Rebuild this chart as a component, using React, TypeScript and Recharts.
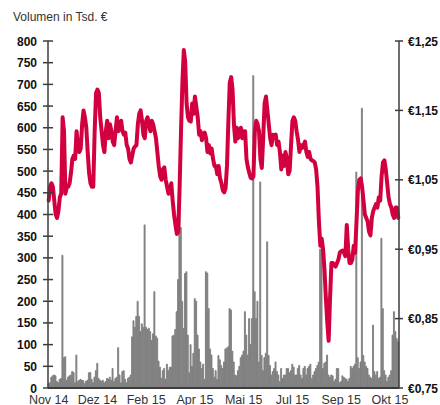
import { ComposedChart, Bar, Line, XAxis, YAxis } from "recharts";

const xLabels = ["Nov 14", "Dez 14", "Feb 15", "Apr 15", "Mai 15", "Jul 15", "Sep 15", "Okt 15"];
const labelEvery = 35;

const volumeTicks = [0, 50, 100, 150, 200, 250, 300, 350, 400, 450, 500, 550, 600, 650, 700, 750, 800];
const priceTicks = [0.75, 0.85, 0.95, 1.05, 1.15, 1.25];

// daily volume, thousand EUR
const volume = [
  10, 12, 25, 28, 30, 28, 15, 12, 20, 22,
  306, 70, 72, 18, 25, 28, 30, 38, 36, 12,
  76, 15, 18, 20, 18, 17, 10, 16, 18, 35,
  36, 20, 12, 25, 40, 57, 22, 18, 15, 18,
  12, 15, 22, 20, 25, 18, 45, 15, 22, 25,
  93, 30, 12, 38, 40, 20, 12, 22, 25, 30,
  118, 155, 140, 165, 200, 165, 130, 148, 140, 376,
  140, 135, 138, 130, 110, 125, 222, 120, 115, 62,
  48, 22, 40, 45, 20, 55, 40, 48, 48, 120,
  122, 135, 176, 250, 420, 370, 200, 137, 264, 268,
  122,
  35, 100, 50, 80, 206, 200, 122, 90, 60, 45,
  55, 20, 268, 265, 183, 90, 76, 45, 25, 40,
  20, 75, 65, 52, 45, 60, 90, 92, 95, 183,
  180, 85, 60, 30, 28, 40, 50, 70, 76, 85,
  176, 122, 76, 160, 100, 160, 720, 222, 160, 200,
  60, 475, 75, 40, 70, 80, 337, 75, 52, 30,
  38, 45, 60, 38, 30, 15, 45, 22, 30, 30,
  45, 45, 35, 40, 55, 48, 30, 30, 45, 52,
  30, 22, 45, 50, 30, 45, 50, 55, 22, 30,
  38, 45, 52, 60, 320, 322, 45, 57, 60, 76,
  30, 25, 30, 28, 15, 20, 45, 45, 12, 15,
  28, 25, 22, 20, 15, 22, 50, 45, 50, 55,
  498, 70, 45, 60, 645, 75, 60, 50, 45, 30,
  25, 22, 145, 38, 30, 38, 22, 25, 345, 183,
  40, 30, 15, 25, 30, 40, 122, 176, 130, 114,
  107,
];

// closing price, EUR
const price = [
  1.02, 1.04, 1.045, 1.04, 1.02, 1.0, 0.995, 1.005, 1.025, 1.03,
  1.14, 1.12, 1.03, 1.04, 1.04, 1.045, 1.06, 1.08, 1.085, 1.08,
  1.12, 1.1, 1.09, 1.095, 1.13, 1.15, 1.14, 1.125, 1.09, 1.06,
  1.045, 1.04, 1.04, 1.12, 1.175, 1.18, 1.175, 1.14, 1.12, 1.1,
  1.09, 1.12, 1.135, 1.11, 1.13, 1.12, 1.105, 1.1, 1.12, 1.14,
  1.12, 1.125, 1.135, 1.12, 1.115, 1.118, 1.1, 1.095, 1.08, 1.075,
  1.085, 1.095, 1.098, 1.1, 1.13, 1.145, 1.15, 1.135, 1.115, 1.11,
  1.135, 1.14, 1.13, 1.12, 1.135, 1.13, 1.12, 1.11, 1.09, 1.07,
  1.055, 1.05, 1.065, 1.068, 1.05, 1.04, 1.03, 1.035, 1.045, 1.02,
  1.0, 0.985, 0.972, 0.975, 1.04, 1.12, 1.19, 1.237, 1.22, 1.16,
  1.14,
  1.135, 1.134, 1.16, 1.145, 1.17, 1.155, 1.14, 1.115, 1.12, 1.107,
  1.115, 1.118, 1.11, 1.09, 1.1, 1.088, 1.095, 1.08, 1.07, 1.07,
  1.058, 1.07, 1.052, 1.045, 1.035, 1.032, 1.038, 1.07, 1.135, 1.19,
  1.198, 1.18, 1.13, 1.105, 1.125, 1.11, 1.12, 1.125, 1.11, 1.12,
  1.12, 1.08, 1.068, 1.06, 1.053, 1.052, 1.055, 1.12, 1.135, 1.13,
  1.12, 1.08, 1.067, 1.11, 1.16, 1.17, 1.15, 1.13, 1.11, 1.1,
  1.115, 1.112, 1.115, 1.1, 1.105, 1.09, 1.065, 1.085, 1.07, 1.09,
  1.08, 1.058, 1.063, 1.1, 1.135, 1.14, 1.135, 1.12, 1.108, 1.09,
  1.1, 1.096, 1.1, 1.105, 1.09, 1.083, 1.09, 1.08, 1.078, 1.077,
  1.075, 1.065, 1.04, 0.99, 0.955, 0.965, 0.95, 0.92, 0.88, 0.845,
  0.818, 0.88, 0.93, 0.93, 0.928, 0.925, 0.93, 0.935, 0.945, 0.947,
  0.948, 0.945, 0.94, 0.985, 0.95, 0.93, 0.93, 0.935, 0.955, 0.945,
  0.99, 1.035, 1.05, 1.052, 1.04, 1.02, 1.0, 0.995, 0.99, 0.975,
  0.97, 0.995, 1.005, 1.01, 1.015, 1.01, 1.025, 1.02, 1.055, 1.075,
  1.078, 1.065, 1.045, 1.025, 1.015, 1.01, 1.0, 0.995, 1.01, 1.01,
  0.995,
];

const data = volume.map((v, i) => ({ idx: i, volume: v, price: price[i] }));

const font = '"Liberation Sans", Arial, sans-serif';
const axisColor = "#3c3c3c";

function LeftTick(props: any) {
  const { x, y, payload } = props;
  const ax = x + 11;
  return (
    <g>
      <line x1={ax - 5} x2={ax + 5} y1={y} y2={y} stroke={axisColor} strokeWidth={1.5} />
      <text x={x} y={y} dy={4.5} textAnchor="end" fontFamily={font} fontSize={12} fontWeight="bold" fill="#111">
        {payload.value}
      </text>
    </g>
  );
}

function RightTick(props: any) {
  const { x, y, payload } = props;
  const ax = x - 9;
  return (
    <g>
      <line x1={ax - 4} x2={ax + 4} y1={y} y2={y} stroke={axisColor} strokeWidth={1.5} />
      <text x={x} y={y} dy={4.5} textAnchor="start" fontFamily={font} fontSize={12} fontWeight="bold" fill="#111">
        {"€" + payload.value.toFixed(2).replace(".", ",")}
      </text>
    </g>
  );
}

function BottomTick(props: any) {
  const { x, y, payload } = props;
  return (
    <text x={x} y={y + 15.5} textAnchor="middle" fontFamily={font} fontSize={12.5} fill="#333">
      {xLabels[payload.value / labelEvery] ?? ""}
    </text>
  );
}

export default function App() {
  return (
    <div style={{ position: "absolute", left: 0, top: 0, width: 440, height: 405, background: "#fff" }}>
      <div
        style={{
          position: "absolute",
          left: 13,
          top: 11,
          fontFamily: font,
          fontSize: 12,
          lineHeight: "12px",
          color: "#333",
          whiteSpace: "nowrap",
        }}
      >
        Volumen in Tsd. €
      </div>
      <ComposedChart
        width={440}
        height={405}
        data={data}
        barCategoryGap={0}
        margin={{ top: 41, right: 0, bottom: 0, left: 0 }}
      >
        <XAxis
          dataKey="idx"
          interval={labelEvery - 1}
          height={17}
          tickSize={0}
          tickMargin={0}
          tickLine={false}
          axisLine={{ stroke: axisColor, strokeWidth: 2 }}
          tick={<BottomTick />}
        />
        <YAxis
          yAxisId="left"
          domain={[0, 800]}
          ticks={volumeTicks}
          interval={0}
          width={48}
          tickSize={5}
          tickMargin={6}
          tickLine={false}
          axisLine={{ stroke: axisColor, strokeWidth: 1.5 }}
          tick={<LeftTick />}
        />
        <YAxis
          yAxisId="right"
          orientation="right"
          domain={[0.75, 1.25]}
          ticks={priceTicks}
          interval={0}
          width={41}
          tickSize={4}
          tickMargin={5}
          tickLine={false}
          allowDataOverflow
          axisLine={{ stroke: axisColor, strokeWidth: 1.5 }}
          tick={<RightTick />}
        />
        <Bar
          yAxisId="left"
          dataKey="volume"
          fill="#7f7f7f"
          stroke="#7f7f7f"
          strokeWidth={0.9}
          isAnimationActive={false}
        />
        <Line
          yAxisId="right"
          dataKey="price"
          type="linear"
          stroke="#D2003F"
          strokeWidth={4}
          strokeLinejoin="round"
          strokeLinecap="round"
          dot={false}
          activeDot={false}
          isAnimationActive={false}
        />
      </ComposedChart>
    </div>
  );
}
